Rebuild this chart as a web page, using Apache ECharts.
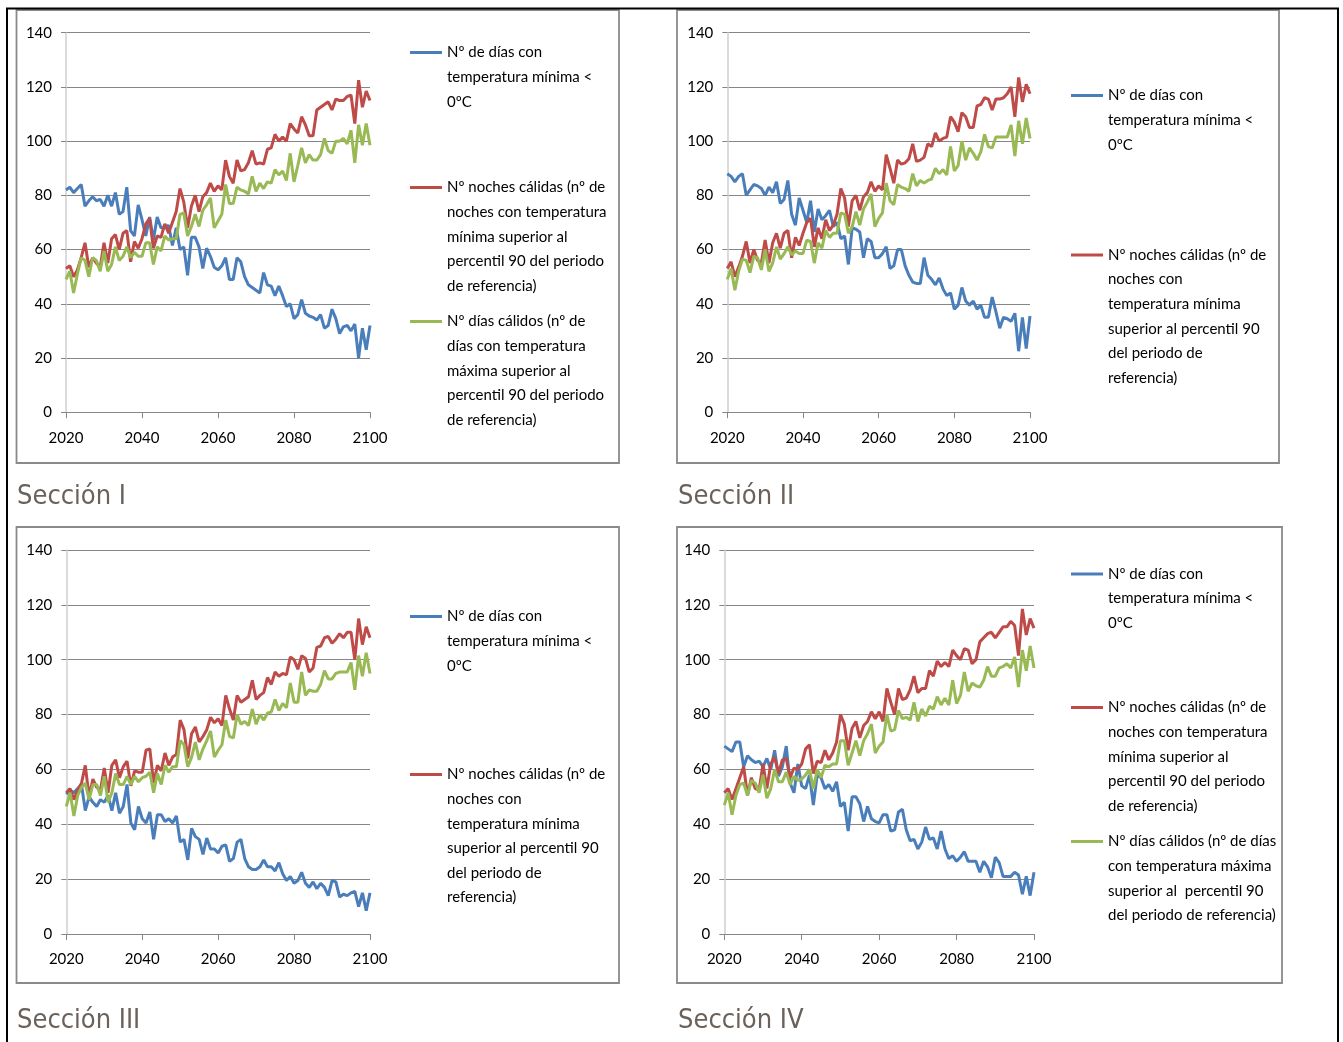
<!DOCTYPE html>
<html>
<head>
<meta charset="utf-8">
<script src="https://cdn.jsdelivr.net/npm/echarts@6/dist/echarts.min.js"></script>
<style>
html,body{margin:0;padding:0;background:#ffffff;}
#chart{width:1343px;height:1042px;}
</style>
</head>
<body>
<div id="chart"></div>
<script>
// ---------------- DATA ----------------
const years = Array.from({length: 81}, (_, i) => 2020 + i);
const xTicks = [2020, 2040, 2060, 2080, 2100];
const yTicks = [0, 20, 40, 60, 80, 100, 120, 140];

const panelTitles = ['Sección I', 'Sección II', 'Sección III', 'Sección IV'];

const seriesNames = [
  'Nº de días con temperatura mínima < 0ºC',
  'Nº noches cálidas (nº de noches con temperatura mínima superior al percentil 90 del periodo de referencia)',
  'Nº días cálidos (nº de días con temperatura máxima superior al percentil 90 del periodo de referencia)'
];

// Sección I
const s1Frost = [82,83,81,82.5,84,76,78,79.5,78,78.5, 76,80,76,81,73,74,83,67,65,76.5,
  71,65,72,63.5,72,68,68,69,61.5,68, 60,61,50.5,64.5,64.5,61,53,60.5,57.5,53.5,
  52.5,54,57,49,49,57,55.5,50,47,46, 45,44,51.5,47,46.5,43,46.5,43,39,40,
  34.5,36,41.5,36.5,35.5,35,34,36,31,32, 38,34.5,29,31.5,32,30,32.5,20,31,23, 32];
const s1Nights = [53,54,50,52.5,57,62.5,53.5,57,55,53.5, 62.5,55,64,65.5,60,66,67,55.5,63,60.5,
  64,69.5,71.5,60.5,65,64.5,69.5,66,70,74, 82.5,77.5,68,76,80,74,79.5,81,84.5,81.5,
  83.5,82,93,87,84.5,93,89,89.5,92,96.5, 91.5,92,91.5,97,97.5,102.5,100,101.5,100,106.5,
  104.5,103,109,106,102,102,111.5,112.5,113.5,114.5, 111.5,115.5,115,115,116.5,117,106.5,122.5,112.5,118.5, 115];
const s1Days = [49,52,44,51,57,56,50,57,56,52, 59.5,52,54.5,61,56,57.5,61,57,59,57.5,
  57.5,62.5,62.5,54.5,61,59.5,65,63.5,64,64, 73,73.5,65,68.5,73,68.5,74.5,76.5,79,68,
  70.5,73,84,77,77,83,82,81.5,80.5,87, 81.5,84.5,82.5,85,84.5,89.5,87.5,89,85.5,95.5,
  85,91,97.5,92,95,93,93,95,101,96.5, 95.5,100,100,101,99,104,92,106,98.5,106.5, 98.5];

// Sección II
const s2Frost = [88,87,85,87,88,80,82,84,83.5,82.5, 80,83,81,85,77,78.5,85.5,73,69,79,
  74.5,70,78,66.5,75,71,72.5,74.5,68.5,70, 64,65,54.5,68,67.5,66.5,57,64,63,57,
  57,58.5,61,53,54,60,60,54,50.5,48, 47.5,47.5,57,50.5,49,47,49.5,45.5,43,44,
  38,39.5,46,41,39.5,41,38,39.5,35,35, 42.5,37,31,35,34.5,33.5,36.5,22.5,35,23.5, 35.5];
const s2Nights = [53,55.5,50,53.5,57.5,63,55,60,56,55, 63.5,55,62.5,66,60.5,66,67,57,64.5,61.5,
  66,70,71.5,61,68,64,71,67,69,73, 82.5,79,68.5,78,80,74.5,79.5,81,85,81.5,
  83.5,82,95,90,84.5,93,91.5,92,93.5,99, 92.5,93,94,99,98,103,100,101,101.5,109,
  107,103.5,110.5,109,105,105,113,113.5,116,115.5, 111.5,115.5,115.5,116,117.5,120,109,123.5,114.5,121, 117.5];
const s2Days = [49,53,45,52,56.5,56,51.5,57.5,57,52.5, 60,52,55,61,56.5,58.5,61,58,59.5,58.5,
  58.5,63.5,63,55,62.5,60.5,67,64.5,66,66, 73.5,73,66,68.5,74,69,75,77.5,80.5,68.5,
  71.5,73.5,84.5,78,76.5,84,83,82.5,81.5,88, 83.5,85.5,84.5,85.5,86,90,88,89.5,87.5,98,
  89,91,100,93,97.5,95.5,93,96,102.5,98, 97.5,101.5,101.5,101.5,101.5,106,94.5,107.5,99,108.5, 101];

// Sección III
const s3Frost = [51,52.5,51.5,53,54.5,45,50,48,46.5,49, 48,50.5,45,51.5,44,46.5,54.5,40.5,38,46.5,
  42,40.5,44.5,34.5,43.5,43.5,41,42,40.5,43, 33.5,34.5,27,38.5,35.5,34.5,29,35,31,31,
  29.5,32,32.5,26.5,27.5,33.5,34.5,27.5,24.5,23.5, 23.5,24.5,27,24.5,24.5,23,26,22,19.5,21,
  18.5,19.5,22.5,18.5,17,19,16.5,18.5,17,14, 19.5,19,13.5,14.5,14,15,15.5,10,15,8.5, 15];
const s3Nights = [51.5,53,49,52.5,55,61.5,50,56.5,53.5,52.5, 60.5,51.5,61.5,63.5,57,61,63,54,59.5,59,
  59,67,67.5,55,61.5,59.5,66,61.5,64.5,65.5, 78,74.5,64,73,75.5,70,72,74.5,79,77,
  78.5,76,87,82,78,87,84.5,85.5,86.5,92.5, 85.5,87,88,93.5,91,95.5,94,95,94.5,101,
  100,96.5,101.5,100.5,95.5,97,104.5,105,108,108.5, 106,107.5,109.5,108,110,110,100,115,105.5,112, 108];
const s3Days = [46.5,51.5,43,50.5,53.5,55,49,54.5,54.5,50.5, 57.5,48,51.5,58.5,54.5,54.5,57.5,54.5,57.5,55.5,
  57,57.5,59,51.5,58.5,54.5,61.5,59,61,61, 70.5,69,61,64.5,70,63.5,67.5,70.5,74,64.5,
  67,69,78,72,71.5,80,76.5,77.5,76,82, 76.5,80,78,80.5,81,85.5,81.5,84,82.5,91.5,
  84.5,84.5,95.5,87,89,88.5,88.5,91,96,93, 93,95,95.5,95.5,95.5,99,89,101.5,94,102.5, 95];

// Sección IV
const s4Frost = [68.5,67.5,66.5,70,70,61,65,63.5,62.5,63, 61,64,60,67,57.5,61,68.5,55,51.5,62,
  54,53,58,47,58,57,53,54.5,52,55.5, 46.5,48,37.5,50,50,47.5,41,46.5,42,41,
  40.5,43.5,43.5,37.5,38,44.5,45.5,38,34,34.5, 31,33.5,39,34.5,35,31,37.5,31,27.5,28.5,
  26.5,28,30,26.5,26.5,26.5,22.5,26.5,24.5,20.5, 28,26,21,21,21,22.5,21.5,14.5,21,14, 22.5];
const s4Nights = [51.5,53,49,53,57,61,50.5,57,53,52.5, 62,53,62,64.5,58.5,63.5,64,57,60.5,60,
  62,67.5,69,58.5,63,62.5,67,63.5,66,70, 80,76.5,67,75,77.5,71.5,76,77.5,81,78.5,
  81,77.5,89.5,84.5,80,89.5,85.5,86,89,94, 88,89.5,89.5,96,94,99.5,97.5,99,97.5,103.5,
  101.5,100,104,103.5,98.5,100,106.5,108,109.5,110, 108,110,112,112,114,112.5,101.5,118.5,109,115, 111.5];
const s4Days = [47,51.5,43.5,50.5,54.5,55,50.5,56,55,51.5, 58,49.5,53,60,55.5,55.5,59,54.5,57.5,56,
  56.5,58,60,53,60,57,61.5,61,62,62, 70.5,70.5,61.5,66,70.5,65,70.5,73,76.5,66,
  68.5,70,80,74,74.5,81.5,78.5,79,78,84.5, 77.5,82,79.5,83,82,86.5,83.5,86,83.5,92.5,
  84,87,95.5,88.5,91.5,90.5,90,92.5,97.5,94, 94,97,97.5,98.5,97,101,90,103.5,96,105, 97];

// Legend wording as it wraps in each panel
const legendText = [
  [['Nº de días con','temperatura mínima <','0ºC'],
   ['Nº noches cálidas (nº de','noches con temperatura','mínima superior al','percentil 90 del periodo','de referencia)'],
   ['Nº días cálidos (nº de','días con temperatura','máxima superior al','percentil 90 del periodo','de referencia)']],
  [['Nº de días con','temperatura mínima <','0ºC'],
   ['Nº noches cálidas (nº de','noches con','temperatura mínima','superior al percentil 90','del periodo de','referencia)']],
  [['Nº de días con','temperatura mínima <','0ºC'],
   ['Nº noches cálidas (nº de','noches con','temperatura mínima','superior al percentil 90','del periodo de','referencia)']],
  [['Nº de días con','temperatura mínima <','0ºC'],
   ['Nº noches cálidas (nº de','noches con temperatura','mínima superior al','percentil 90 del periodo','de referencia)'],
   ['Nº días cálidos (nº de días','con temperatura máxima','superior al  percentil 90','del periodo de referencia)']]
];

const panelData = [
  [s1Frost, s1Nights, s1Days],
  [s2Frost, s2Nights, s2Days],
  [s3Frost, s3Nights, s3Days],
  [s4Frost, s4Nights, s4Days]
];

// ---------------- LAYOUT / STYLE ----------------
const colors = ['#4A7EBB', '#BE4B48', '#98B954'];
const FONT = 'Lato, "Open Sans", sans-serif';
const TITLE_FONT = '"DejaVu Sans Condensed", "DejaVu Sans", sans-serif';
const LH = 24.6;

const layout = [
  {grid: {left: 66, top: 32.7, width: 304, height: 379.5}, box: [16.5, 10, 602.5, 453],
   title: [17, 482], legendX: 410, legendY: [52.5, 187.5, 321.5]},
  {grid: {left: 727.3, top: 32.7, width: 302.7, height: 379.5}, box: [677, 10, 602, 453],
   title: [678, 482], legendX: 1071, legendY: [95.5, 255]},
  {grid: {left: 66.3, top: 550, width: 303.7, height: 384}, box: [16.5, 527, 602.5, 456],
   title: [17, 1006], legendX: 410, legendY: [616.5, 774.5]},
  {grid: {left: 724.3, top: 550, width: 309.7, height: 384}, box: [677, 527, 605, 456],
   title: [678, 1006], legendX: 1071, legendY: [574, 707.5, 841.5]}
];

const grids = [], xAxes = [], yAxes = [], series = [], legends = [], titles = [], graphics = [];

layout.forEach((L, p) => {
  grids.push(Object.assign({containLabel: false}, L.grid));
  xAxes.push({
    gridIndex: p, type: 'value', min: xTicks[0], max: xTicks[xTicks.length - 1],
    interval: xTicks[1] - xTicks[0],
    axisLine: {show: true, onZero: false, lineStyle: {color: '#868686', width: 1}},
    axisTick: {show: true, length: 6, lineStyle: {color: '#868686'}},
    splitLine: {show: false},
    axisLabel: {margin: 18, fontSize: 15, color: '#000', fontFamily: FONT, formatter: v => String(v)}
  });
  yAxes.push({
    gridIndex: p, type: 'value', min: yTicks[0], max: yTicks[yTicks.length - 1],
    interval: yTicks[1] - yTicks[0],
    axisLine: {show: true, lineStyle: {color: '#cfcfcf', width: 1.5}},
    axisTick: {show: true, length: 5, lineStyle: {color: '#868686'}},
    splitLine: {show: true, lineStyle: {color: '#868686', width: 1}},
    axisLabel: {margin: 14, fontSize: 15, color: '#000', fontFamily: FONT, formatter: v => String(v)}
  });
  panelData[p].forEach((vals, k) => {
    series.push({
      type: 'line', name: seriesNames[k], xAxisIndex: p, yAxisIndex: p,
      data: years.map((y, i) => [y, vals[i]]),
      symbol: 'none', showSymbol: false, smooth: false,
      lineStyle: {width: 3, color: colors[k]}, itemStyle: {color: colors[k]},
      z: 2 + k
    });
  });
  legendText[p].forEach((lines, k) => {
    const n = lines.length;
    // blank lines before the text keep the first line level with the key line
    const txt = '\n'.repeat(n - 1) + lines.join('\n');
    legends.push({
      data: [seriesNames[k]], orient: 'vertical', selectedMode: false,
      left: L.legendX, top: L.legendY[k] - (2 * n - 1) * LH / 2,
      padding: 0, itemWidth: 32, itemHeight: 3, icon: 'rect',
      itemStyle: {color: colors[k]},
      formatter: () => txt,
      textStyle: {fontFamily: FONT, fontSize: 15, color: '#000', lineHeight: LH}
    });
  });
  titles.push({
    text: panelTitles[p], left: L.title[0], top: L.title[1], padding: 0,
    textStyle: {fontFamily: TITLE_FONT, fontSize: 27, fontWeight: 'normal', color: '#6a615a', lineHeight: 30}
  });
  graphics.push({
    type: 'rect', z: -1, silent: true,
    shape: {x: L.box[0], y: L.box[1], width: L.box[2], height: L.box[3]},
    style: {fill: 'none', stroke: '#8a8a8a', lineWidth: 1.8}
  });
});

// outer black frame
graphics.push({type: 'line', silent: true, shape: {x1: 6, y1: 8.5, x2: 1339, y2: 8.5}, style: {stroke: '#000', lineWidth: 2}});
graphics.push({type: 'line', silent: true, shape: {x1: 7, y1: 8, x2: 7, y2: 1042}, style: {stroke: '#000', lineWidth: 2}});
graphics.push({type: 'line', silent: true, shape: {x1: 1338, y1: 8, x2: 1338, y2: 1042}, style: {stroke: '#000', lineWidth: 2}});

const chart = echarts.init(document.getElementById('chart'), null, {renderer: 'canvas'});
chart.setOption({
  animation: false,
  backgroundColor: '#ffffff',
  title: titles,
  grid: grids,
  xAxis: xAxes,
  yAxis: yAxes,
  legend: legends,
  series: series,
  graphic: graphics
});
</script>
</body>
</html>
